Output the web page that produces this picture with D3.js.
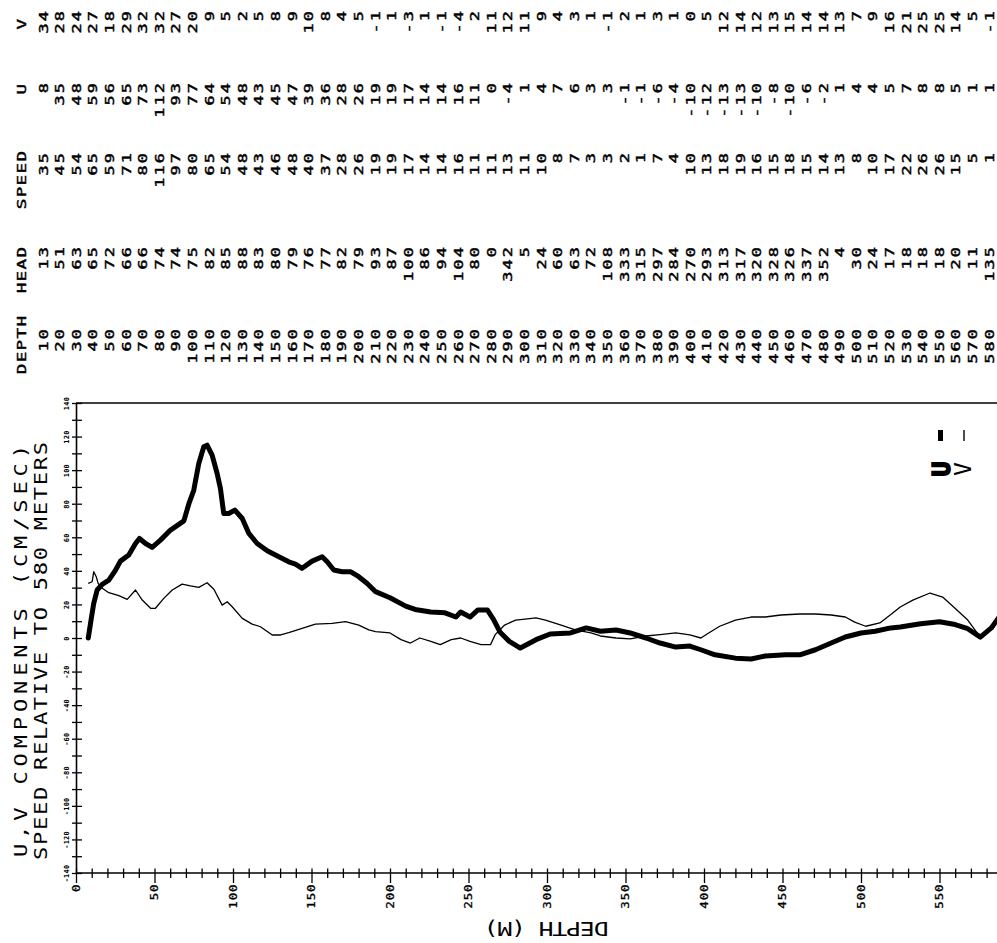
<!DOCTYPE html>
<html><head><meta charset="utf-8">
<script src="https://cdn.jsdelivr.net/npm/d3@7"></script>
<style>
body{margin:0;background:#fff}
svg{display:block}
text{font-family:"DejaVu Sans Mono",monospace;fill:#000}
</style>
</head><body>
<svg id="c" width="997" height="943"></svg>
<script>
// ---------- table data ----------
const depths = [10,20,30,40,50,60,70,80,90,100,110,120,130,140,150,160,170,180,190,200,210,220,230,240,250,260,270,280,290,300,310,320,330,340,350,360,370,380,390,400,410,420,430,440,450,460,470,480,490,500,510,520,530,540,550,560,570,580];
const head = [13,51,63,65,72,66,66,74,74,75,82,85,88,83,80,79,76,77,82,79,93,87,100,86,94,104,80,0,342,5,24,60,63,72,108,333,315,297,284,270,293,313,317,320,328,326,337,352,4,30,24,17,18,18,18,20,11,135];
const speed = [35,45,54,65,59,71,80,116,97,80,65,54,48,43,46,48,40,37,28,26,19,19,17,14,14,16,11,11,13,11,10,8,7,3,3,2,1,7,4,10,13,18,19,16,15,18,15,14,13,8,10,17,22,26,26,15,5,1];
const uTable = [8,35,48,59,56,65,73,112,93,77,64,54,48,43,45,47,39,36,28,26,19,19,17,14,14,16,11,0,-4,1,4,7,6,3,3,-1,-1,-6,-4,-10,-12,-13,-13,-10,-8,-10,-6,-2,1,4,4,5,7,8,8,5,1,1];
const vTable = [34,28,24,27,18,29,32,32,27,20,9,5,2,5,8,9,10,8,4,5,-1,1,-3,1,-1,-4,2,11,12,11,9,4,3,1,-1,2,1,3,1,0,5,12,14,12,13,15,14,14,13,7,9,16,21,25,25,14,5,-1];

// ---------- curve data ----------
const uCurveDepth = [7.8,9.8,11.3,13.5,16.7,20.9,25.2,28.3,33.6,37.9,40.4,44.3,48.5,53.8,60.2,65.5,68.7,71.9,75,78.2,81.4,83.5,86.7,89.9,92,94.1,97.3,101.2,105.9,110.1,115.4,121.8,129.2,135.5,139.8,144,150.4,156.8,160,164.2,169.5,174.8,180.1,185.5,190.8,200,210,216,226,235,242,245,251,256,262,266,270,276,283,293,302,315,325,334,344,353,363,372,382,391,398,407,420,430,439,452,461,471,481,490,500,509,519,525,538,550,560,567.5,576,583,590];
const uCurveVal   = [0,12,20.6,28.6,32,34.5,40.5,45.8,49.4,56.3,59.3,56.3,54,58.3,64.3,67.7,69.8,80,88,104,113.9,114.9,109,98,89,74.2,74.2,76.2,71.2,62.3,56.3,52,48.4,45.4,44,41.5,45.8,48.4,45.4,40.5,39.5,39.5,36.5,32.5,27.6,24,19,17,15.5,15,12.5,15.5,12.5,16.7,16.7,11,3.6,-2,-6,-1,2.4,3,6,4,4.8,3,0,-3,-5.4,-4.8,-7,-10,-12,-12.5,-10.7,-10,-10,-7,-3,0.6,3,4,6,6.5,8.5,9.7,8,5.8,0.5,6,15];
const vCurveDepth = [7.8,10.3,11.3,12.9,14.1,16.7,20.9,27.3,32.6,37.9,42.2,47.5,50.6,55.9,61.3,67.6,72.9,78.2,83.5,87.8,93.1,96.3,99.5,105.9,112.2,117.5,125,130.3,135.5,144,152.5,163.2,171.7,180.1,186.5,190.8,200,207,213,219,226,232,239,245,251,258,264,267,273,280,286,293,299,309,318,328,334,344,353,363,372,382,391,398,404,410,420,430,439,449,461,471,481,490,496,503,512,519,525,533,544,552,559,568,574,578];
const vCurveVal   = [32.5,33.5,39.5,36.5,32.5,29.6,27,25.2,23,28.6,22.6,17.7,17.7,23.6,28.6,32.1,31,30.2,32.9,29,19.6,21.6,18.6,11.7,8.3,6.7,1.8,1.8,3.2,5.8,8.3,8.7,9.7,7.7,4.8,3.8,3,-1,-3,0,-2,-4,-1,0,-2,-4,-4,2,7.7,10.7,11.3,12,10.7,7.7,4.8,3,1.2,0,-0.5,1.2,2,3,1.8,0,3.6,7,10.7,12.5,12.5,13.7,14.3,14.3,13.7,12.5,9.5,7,9,14,18.5,22.6,26.8,24.4,18.5,10.7,3,0.6];

const xTickLabels = [0,50,100,150,200,250,300,350,400,450,500,550];
const yTickLabels = [-140,-120,-100,-80,-60,-40,-20,0,20,40,60,80,100,120,140];

// ---------- drawing ----------
const svg = d3.select('#c');
const x = d3.scaleLinear().domain([0,590]).range([76,1002.3]);
const y = d3.scaleLinear().domain([-140,140]).range([873,403]);

// table
const row = d3.scaleLinear().domain([10,580]).range([43,989]);
const SX = 1.35, FS = 12.5, LS = 1.6;
const cols = [
  {label:'V', vals:vTable, end:11, labEnd:19},
  {label:'U', vals:uTable, end:83, labEnd:84},
  {label:'SPEED', vals:speed, end:153, labEnd:151},
  {label:'HEAD', vals:head, end:247, labEnd:247},
  {label:'DEPTH', vals:depths, end:329, labEnd:316}
];
const tbl = svg.append('g');
cols.forEach(c => {
  tbl.append('text')
    .attr('transform', `translate(22,${c.labEnd - 1.0*SX}) rotate(-90) scale(${SX},1)`)
    .attr('text-anchor','end').attr('dominant-baseline','central')
    .style('font-size','13px').style('letter-spacing','1.0px')
    .attr('stroke','#000').attr('stroke-width',0.45)
    .text(c.label);
  tbl.selectAll(null).data(c.vals).enter().append('text')
    .attr('transform', (d,i) => `translate(${row(depths[i])},${c.end - LS*SX}) rotate(-90) scale(${SX},1)`)
    .attr('text-anchor','end').attr('dominant-baseline','central')
    .style('font-size', FS+'px').style('letter-spacing', LS+'px')
    .attr('stroke','#000').attr('stroke-width',0.45)
    .text(d => d);
});

// x axis
const gx = svg.append('g').attr('transform', `translate(0,${y(-140)})`)
  .call(d3.axisBottom(x).tickValues(d3.range(0,590,10)).tickSizeInner(5).tickSizeOuter(0)
    .tickFormat(d => xTickLabels.includes(d) ? d : ''));
gx.select('.domain').attr('stroke','#000').attr('stroke-width',1.6).attr('d',`M${x(0)},0H997`);
gx.selectAll('.tick line').attr('stroke','#000').attr('stroke-width',1.3)
  .attr('y1',-4.5).attr('y2', d => d % 50 === 0 ? 10 : 5);
gx.selectAll('.tick text')
  .attr('y',null).attr('dy',null).attr('x',null)
  .attr('transform','translate(0,10.5) rotate(-90) scale(1.25,1)')
  .attr('text-anchor','end').attr('dominant-baseline','central')
  .style('font-family','"DejaVu Sans Mono",monospace')
  .style('font-size','10px').style('letter-spacing','0.7px').attr('fill','#000')
  .attr('stroke','#000').attr('stroke-width',0.3);

// y axis
const gy = svg.append('g').attr('transform', `translate(${x(0)},0)`)
  .call(d3.axisLeft(y).tickValues(d3.range(-140,150,10)).tickSizeInner(4).tickSizeOuter(0)
    .tickFormat(d => yTickLabels.includes(d) ? d : ''));
gy.select('.domain').attr('stroke','#000').attr('stroke-width',1.6);
gy.selectAll('.tick line').attr('stroke','#000').attr('stroke-width',1.3).attr('x1',-4).attr('x2',6);
gy.selectAll('.tick text')
  .attr('y',null).attr('dy',null).attr('x',null)
  .attr('transform','translate(-9,0) rotate(-90)')
  .attr('text-anchor','middle').attr('dominant-baseline','central')
  .style('font-family','"DejaVu Sans Mono",monospace')
  .style('font-size','7px').style('font-weight','bold').style('letter-spacing','0.2px').attr('fill','#000');

// top frame
svg.append('line').attr('x1',x(0)).attr('x2',997).attr('y1',y(140)).attr('y2',y(140))
  .attr('stroke','#000').attr('stroke-width',1.6);

// curves
const line = d3.line().x(d => x(d[0])).y(d => y(d[1]));
const uPts = uCurveDepth.map((d,i) => [d, uCurveVal[i]]);
const vPts = vCurveDepth.map((d,i) => [d, vCurveVal[i]]);
svg.append('path').datum(vPts).attr('d',line).attr('fill','none')
  .attr('stroke','#000').attr('stroke-width',1.3).attr('stroke-linejoin','round');
svg.append('path').datum(uPts).attr('d',line).attr('fill','none')
  .attr('stroke','#000').attr('stroke-width',5).attr('stroke-linejoin','round').attr('stroke-linecap','round');

// legend
svg.append('line').attr('x1',940.5).attr('x2',940.5).attr('y1',430).attr('y2',441)
  .attr('stroke','#000').attr('stroke-width',5);
svg.append('line').attr('x1',964).attr('x2',964).attr('y1',430).attr('y2',441)
  .attr('stroke','#000').attr('stroke-width',1.4);
svg.append('text').attr('transform','translate(941,469) rotate(-90)')
  .attr('text-anchor','middle').attr('dominant-baseline','central')
  .style('font-size','25px').style('font-weight','bold').attr('stroke','#000').attr('stroke-width',1.6)
  .text('U');
svg.append('text').attr('transform','translate(963,469) rotate(-90)')
  .attr('text-anchor','middle').attr('dominant-baseline','central')
  .style('font-size','23px').text('V');

// titles
const TS = 1.3;
svg.append('text').attr('transform',`translate(21,857) rotate(-90) scale(${TS},1)`)
  .attr('text-anchor','start').attr('dominant-baseline','central')
  .attr('textLength',412/TS).attr('lengthAdjust','spacing')
  .style('font-size','17px').text('U,V COMPONENTS (CM/SEC)');
svg.append('text').attr('transform',`translate(41,860) rotate(-90) scale(${TS},1)`)
  .attr('text-anchor','start').attr('dominant-baseline','central')
  .attr('textLength',418/TS).attr('lengthAdjust','spacing')
  .style('font-size','17px').text('SPEED RELATIVE TO 580 METERS');
svg.append('text').attr('transform',`translate(546,928) rotate(180) scale(${TS},1)`)
  .attr('text-anchor','middle').attr('dominant-baseline','central')
  .attr('textLength',125/TS).attr('lengthAdjust','spacing')
  .style('font-size','19px').text('DEPTH (M)');
</script>
</body></html>
